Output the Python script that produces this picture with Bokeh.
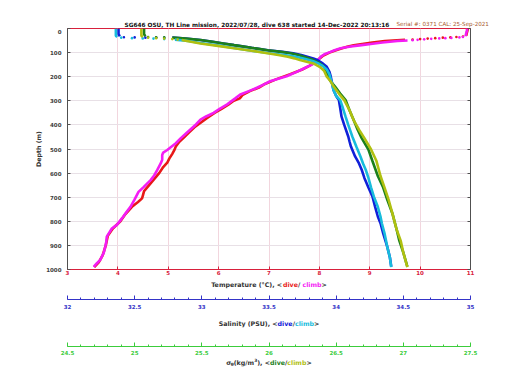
from bokeh.plotting import figure
from bokeh.layouts import column
from bokeh.models import Range1d, LinearAxis, FixedTicker, Label, CustomJSTickFormatter
from bokeh.embed import file_html
from bokeh.resources import INLINE

# ---------------- data ----------------
title_text = "SG646 OSU, TH Line mission, 2022/07/28, dive 638 started 14-Dec-2022 20:13:16"
serial_text = "Serial #: 0371  CAL: 25-Sep-2021"

depth_ticks = [0, 100, 200, 300, 400, 500, 600, 700, 800, 900, 1000]
temp_ticks = [3, 4, 5, 6, 7, 8, 9, 10, 11]
temp_tick_labels = ["3", "4", "5", "6", "7", "8", "9", "10", "11"]
sal_ticks = [32, 32.5, 33, 33.5, 34, 34.5, 35]
sal_tick_labels = ["32", "32.5", "33", "33.5", "34", "34.5", "35"]
sig_ticks = [24.5, 25, 25.5, 26, 26.5, 27, 27.5]
sig_tick_labels = ["24.5", "25", "25.5", "26", "26.5", "27", "27.5"]

# (depth m, value)
temp_dive_bar = [(0, 10.95), (8, 10.94), (16, 10.93), (24, 10.92), (30, 10.92)]
temp_dive_dots = [(33, 10.85), (35, 10.72), (37, 10.6), (38, 10.45), (40, 10.3), (42, 10.15), (44, 10.0), (46, 9.85)]
temp_dive_line = [(47, 9.7), (52, 9.3), (58, 9.05), (64, 8.85), (70, 8.68), (76, 8.55), (84, 8.42), (92, 8.3),
                  (100, 8.2), (112, 8.08), (125, 8.0), (140, 7.92), (155, 7.8), (170, 7.66), (190, 7.42),
                  (210, 7.15), (230, 6.92), (245, 6.8), (260, 6.62), (275, 6.48), (290, 6.42), (300, 6.3),
                  (315, 6.2), (335, 6.05), (350, 5.92), (370, 5.78), (390, 5.65), (410, 5.52), (430, 5.42),
                  (450, 5.32), (470, 5.22), (490, 5.15), (505, 5.12), (520, 5.08), (540, 5.02), (557, 4.98),
                  (575, 4.9), (600, 4.82), (625, 4.72), (650, 4.62), (675, 4.52), (690, 4.5), (705, 4.48),
                  (720, 4.4), (740, 4.28), (770, 4.15), (800, 4.05), (830, 3.9), (860, 3.8), (900, 3.76),
                  (940, 3.7), (970, 3.62), (990, 3.53)]

temp_climb_bar = [(0, 10.93), (8, 10.93), (16, 10.92), (24, 10.91), (32, 10.9)]
temp_climb_dots = [(35, 10.85), (37, 10.78), (39, 10.62), (40, 10.5), (41, 10.38), (43, 10.22), (45, 10.08),
                   (47, 9.95), (49, 9.85)]
temp_climb_line = [(50, 9.75), (52, 9.55), (58, 9.25), (64, 9.02), (70, 8.8), (75, 8.62), (82, 8.42), (90, 8.3),
                   (97, 8.22), (107, 8.1), (117, 8.03), (132, 7.97), (149, 7.86), (165, 7.7), (180, 7.55),
                   (198, 7.35), (219, 7.02), (232, 6.9), (246, 6.76), (260, 6.6), (274, 6.43), (290, 6.33),
                   (315, 6.17), (333, 6.02), (350, 5.9), (365, 5.75), (378, 5.64), (398, 5.55), (419, 5.44),
                   (440, 5.33), (455, 5.25), (476, 5.15), (504, 4.98), (515, 4.9), (525, 4.88), (545, 4.88),
                   (560, 4.85), (588, 4.78), (610, 4.72), (629, 4.65), (658, 4.51), (678, 4.41), (710, 4.33),
                   (740, 4.25), (765, 4.16), (788, 4.08), (815, 3.98), (830, 3.88), (850, 3.82), (864, 3.78),
                   (885, 3.77), (905, 3.75), (930, 3.72), (960, 3.65), (975, 3.58), (989, 3.52)]

sal_dive_bar = [(0, 32.38), (8, 32.38), (16, 32.38), (24, 32.38), (32, 32.39)]
sal_dive_dots = [(36, 32.42), (37, 32.5), (38, 32.58), (38, 32.66), (39, 32.72)]
sal_dive_line = [(38, 32.78), (42, 32.88), (48, 32.99), (55, 33.08), (62, 33.16), (69, 33.24), (80, 33.37),
                 (90, 33.49), (97, 33.6), (103, 33.68), (110, 33.74), (117, 33.785), (124, 33.83), (131, 33.86),
                 (145, 33.9), (159, 33.93), (180, 33.95), (200, 33.96), (228, 33.97), (255, 33.98), (280, 34.0),
                 (297, 34.02), (330, 34.03), (366, 34.04), (400, 34.06), (448, 34.09), (470, 34.1), (490, 34.11),
                 (530, 34.14), (560, 34.17), (586, 34.19), (620, 34.21), (660, 34.24), (697, 34.27), (740, 34.29),
                 (780, 34.31), (808, 34.33), (850, 34.35), (905, 34.38), (950, 34.4), (988, 34.41)]

sal_climb_bar = [(0, 32.36), (8, 32.36), (16, 32.36), (24, 32.36), (30, 32.36), (35, 32.37)]
sal_climb_dots = [(38, 32.4), (40, 32.48), (41, 32.56), (42, 32.64), (44, 32.72)]
sal_climb_line = [(46, 32.8), (52, 32.9), (60, 32.99), (70, 33.12), (81, 33.24), (92, 33.37), (102, 33.49),
                  (109, 33.6), (115, 33.68), (122, 33.74), (129, 33.785), (136, 33.83), (143, 33.86), (155, 33.9),
                  (170, 33.93), (190, 33.95), (210, 33.96), (230, 33.97), (255, 33.98), (280, 34.0), (297, 34.03),
                  (330, 34.05), (366, 34.07), (400, 34.09), (448, 34.12), (490, 34.15), (530, 34.18), (560, 34.2),
                  (586, 34.22), (620, 34.24), (660, 34.26), (697, 34.28), (740, 34.31), (780, 34.33), (808, 34.34),
                  (850, 34.36), (905, 34.38), (950, 34.4), (990, 34.41)]

sig_dive_bar = [(0, 25.07), (8, 25.07), (16, 25.07), (24, 25.07), (32, 25.08)]
sig_dive_dots = [(35, 25.1), (36, 25.16), (37, 25.22)]
sig_dive_line = [(38, 25.28), (42, 25.38), (48, 25.49), (55, 25.58), (62, 25.66), (69, 25.74), (80, 25.87),
                 (90, 25.99), (97, 26.09), (103, 26.16), (110, 26.22), (117, 26.26), (124, 26.3), (131, 26.33),
                 (145, 26.38), (159, 26.41), (180, 26.43), (200, 26.44), (220, 26.46), (240, 26.49), (270, 26.53),
                 (297, 26.57), (340, 26.6), (380, 26.63), (420, 26.66), (455, 26.69), (502, 26.74), (550, 26.77),
                 (612, 26.81), (660, 26.85), (710, 26.88), (770, 26.92), (834, 26.95), (880, 26.97), (930, 27.0),
                 (988, 27.03)]

sig_climb_bar = [(0, 25.05), (8, 25.05), (16, 25.05), (24, 25.05), (30, 25.05), (35, 25.06)]
sig_climb_dots = [(38, 25.1), (40, 25.16), (42, 25.22), (44, 25.28), (46, 25.32)]
sig_climb_line = [(48, 25.35), (55, 25.42), (62, 25.49), (72, 25.62), (82, 25.74), (92, 25.87), (103, 25.99),
                  (110, 26.07), (117, 26.14), (124, 26.19), (131, 26.23), (138, 26.28), (145, 26.33), (160, 26.38),
                  (175, 26.41), (200, 26.43), (220, 26.46), (240, 26.48), (270, 26.52), (297, 26.56), (340, 26.6),
                  (380, 26.63), (420, 26.67), (455, 26.71), (502, 26.76), (550, 26.8), (612, 26.83), (660, 26.86),
                  (710, 26.89), (770, 26.92), (834, 26.95), (880, 26.98), (930, 27.0), (990, 27.03)]

# ---------------- styling ----------------
FONT = "DejaVu Sans"
C_TEXT = "#333333"
C_TEMP_AX = "#d8203c"
C_SAL_AX = "#3434c8"
C_SIG_AX = "#3ccc3c"
C_RED = "#e81818"
C_MAG = "#f41cf4"
C_BLUE = "#1020d8"
C_CYAN = "#18bcdc"
C_GREEN = "#1c801c"
C_OLIVE = "#b0c010"

LEFT, FW, RIGHT = 67, 403, 42
TICK_FS = "5.5px"


def style_axis(ax, color, label_color):
    ax.axis_line_color = color
    ax.major_tick_line_color = color
    ax.minor_tick_line_color = color
    ax.major_tick_in = 3
    ax.major_tick_out = 0
    ax.minor_tick_in = 2
    ax.minor_tick_out = 0
    ax.major_label_text_font = FONT
    ax.major_label_text_font_size = TICK_FS
    ax.major_label_text_font_style = "bold"
    ax.major_label_text_color = label_color


def blank_fig(fh, fw=FW, left=LEFT, right=RIGHT, x_range=None):
    f = figure(frame_width=fw, frame_height=fh, x_range=x_range or Range1d(0, 1), y_range=Range1d(0, 1),
               output_backend="svg", toolbar_location=None, x_axis_location=None, y_axis_location=None,
               min_border_left=left, min_border_right=right, min_border_top=0, min_border_bottom=0)
    f.outline_line_color = None
    f.grid.visible = False
    f.background_fill_color = "white"
    f.border_fill_color = "white"
    return f


BW = {' ': .348, '(': .457, ')': .457, ',': .380, '-': .415, '.': .380, '/': .365, ':': .400,
      '<': .838, '>': .838, '#': .838, '°': .500,
      'A': .774, 'C': .734, 'D': .830, 'H': .837, 'L': .637, 'O': .850, 'P': .733, 'S': .720,
      'T': .682, 'U': .812, 'G': .821, 'a': .675, 'b': .716, 'c': .593, 'd': .716, 'e': .678,
      'g': .716, 'h': .712, 'i': .343, 'k': .665, 'l': .343, 'm': 1.042, 'n': .712, 'o': .687,
      'p': .716, 'r': .493, 's': .595, 't': .478, 'u': .712, 'v': .652, 'y': .652,
      'σ': .700, 'θ': .690}


def tw(s, size):
    return sum(BW.get(c, .696 if c.isdigit() else .65) for c in s) * size


def rich(fig, pieces, cx, cy, size):
    total = sum(tw(t, size * (0.7 if k else 1.0)) for t, c, k in pieces)
    x = cx - total / 2
    for txt, col, kind in pieces:
        fs = size * (0.7 if kind else 1.0)
        dy = -2.0 if kind == "sub" else (2.2 if kind == "sup" else 0.0)
        fig.add_layout(Label(x=x, y=cy + dy, x_units="screen", y_units="screen", text=txt,
                             text_color=col, text_font=FONT, text_font_size=f"{fs:.2f}px",
                             text_font_style="bold", text_baseline="middle", text_align="left"))
        x += tw(txt, fs)


# ---------------- title strip ----------------
TOP_H = 28
ft = blank_fig(TOP_H, fw=FW + RIGHT, left=LEFT, right=0)
title_fs = 0.95 * 279.0 / tw(title_text, 1.0)
ft.add_layout(Label(x=124 - LEFT, y=TOP_H - 24, x_units="screen", y_units="screen", text=title_text,
                    text_color="#111111", text_font=FONT, text_font_size=f"{title_fs:.2f}px",
                    text_font_style="bold", text_baseline="middle", text_align="left"))
ft.add_layout(Label(x=396 - LEFT, y=TOP_H - 23.3, x_units="screen", y_units="screen", text=serial_text,
                    text_color="#a8582c", text_font=FONT, text_font_size="5.6px",
                    text_baseline="middle", text_align="left"))

# ---------------- main plot ----------------
FH = 241
p = figure(frame_width=FW, frame_height=FH, x_range=Range1d(3, 11), y_range=Range1d(1000, 0),
           output_backend="svg", toolbar_location=None,
           min_border_left=LEFT, min_border_right=RIGHT, min_border_top=0, min_border_bottom=0)
p.background_fill_color = "white"
p.border_fill_color = "white"
p.outline_line_color = C_TEMP_AX
p.outline_line_width = 1

xa = p.xaxis[0]
xa.ticker = FixedTicker(ticks=temp_ticks)
xa.major_label_overrides = dict(zip(temp_ticks, temp_tick_labels))
style_axis(xa, C_TEMP_AX, C_TEMP_AX)
xa.minor_tick_line_color = None
xa.major_label_standoff = 0

ya = p.yaxis[0]
ya.ticker = FixedTicker(ticks=depth_ticks)
style_axis(ya, "#505050", "#404040")
ya.minor_tick_line_color = None
ya.major_label_standoff = 6
ya.axis_label = "Depth (m)"
ya.axis_label_text_font = FONT
ya.axis_label_text_font_size = "6.3px"
ya.axis_label_text_font_style = "bold"
ya.axis_label_text_color = C_TEXT
ya.axis_label_standoff = 1

blank = CustomJSTickFormatter(code="return ''")
right_ax = LinearAxis(ticker=FixedTicker(ticks=depth_ticks), formatter=blank)
style_axis(right_ax, "#505050", "#404040")
right_ax.minor_tick_line_color = None
right_ax.major_label_standoff = 0
p.add_layout(right_ax, "right")

p.xgrid.grid_line_color = "#f2d6de"
p.ygrid.grid_line_color = "#e8e0e6"

LW = 2.6
DOT = 2.6
RANGE_OF = {C_RED: None, C_MAG: None, C_BLUE: "sal", C_CYAN: "sal", C_GREEN: "sig", C_OLIVE: "sig"}


def kw_for(color):
    r = RANGE_OF[color]
    return {} if r is None else {"x_range_name": r}


def draw(bar, dots, line, color):
    p.line([v for d, v in bar], [d for d, v in bar], line_color=color, line_width=LW, **kw_for(color))
    p.scatter([v for d, v in dots], [d for d, v in dots], size=DOT, marker="circle",
              fill_color=color, line_color=None, **kw_for(color))
    p.line([v for d, v in line], [d for d, v in line], line_color=color, line_width=LW, **kw_for(color))


p.extra_x_ranges = {"sal": Range1d(32, 35), "sig": Range1d(24.5, 27.5)}
draw(temp_dive_bar, temp_dive_dots, temp_dive_line, C_RED)
draw(temp_climb_bar, temp_climb_dots, temp_climb_line, C_MAG)
draw(sal_dive_bar, sal_dive_dots, sal_dive_line, C_BLUE)
draw(sig_dive_bar, sig_dive_dots, sig_dive_line, C_GREEN)
draw(sal_climb_bar, sal_climb_dots, sal_climb_line, C_CYAN)
draw(sig_climb_bar, sig_climb_dots, sig_climb_line, C_OLIVE)

TS = 6.3

# ---------------- temperature title + salinity axis ----------------
H1 = 22
f1 = blank_fig(H1, x_range=Range1d(32, 35))
sal_ax = LinearAxis(ticker=FixedTicker(ticks=sal_ticks, minor_ticks=[32 + 0.1 * i for i in range(31)]))
sal_ax.major_label_overrides = dict(zip(sal_ticks, sal_tick_labels))
style_axis(sal_ax, C_SAL_AX, C_SAL_AX)
sal_ax.major_tick_in = 4
sal_ax.major_label_standoff = 4
f1.add_layout(sal_ax, "below")
rich(f1, [("Temperature (°C), <", C_TEXT, None), ("dive", C_RED, None), ("/ ", C_TEXT, None),
          ("climb", C_MAG, None), (">", C_TEXT, None)], FW / 2, 15.4, TS)

# ---------------- salinity title + sigma axis ----------------
H2 = 35
f2 = blank_fig(H2, x_range=Range1d(24.5, 27.5))
sig_ax = LinearAxis(ticker=FixedTicker(ticks=sig_ticks, minor_ticks=[24.5 + 0.1 * i for i in range(31)]))
sig_ax.major_label_overrides = dict(zip(sig_ticks, sig_tick_labels))
style_axis(sig_ax, C_SIG_AX, C_SIG_AX)
sig_ax.major_tick_in = 4
sig_ax.major_label_standoff = 3
f2.add_layout(sig_ax, "below")
rich(f2, [("Salinity (PSU), <", C_TEXT, None), ("dive", C_BLUE, None), ("/", C_TEXT, None),
          ("climb", C_CYAN, None), (">", C_TEXT, None)], FW / 2, 22.6, TS)

# ---------------- sigma title ----------------
H3 = 18
f3 = blank_fig(H3)
rich(f3, [("σ", C_TEXT, None), ("θ", C_TEXT, "sub"), ("(kg/m", C_TEXT, None), ("3", C_TEXT, "sup"),
          ("), <", C_TEXT, None), ("dive", C_GREEN, None), ("/", C_TEXT, None),
          ("climb", C_OLIVE, None), (">", C_TEXT, None)], FW / 2, 13.1, TS)

layout = column(ft, p, f1, f2, f3, spacing=0)
open("out.html", "w").write(file_html(layout, INLINE))
